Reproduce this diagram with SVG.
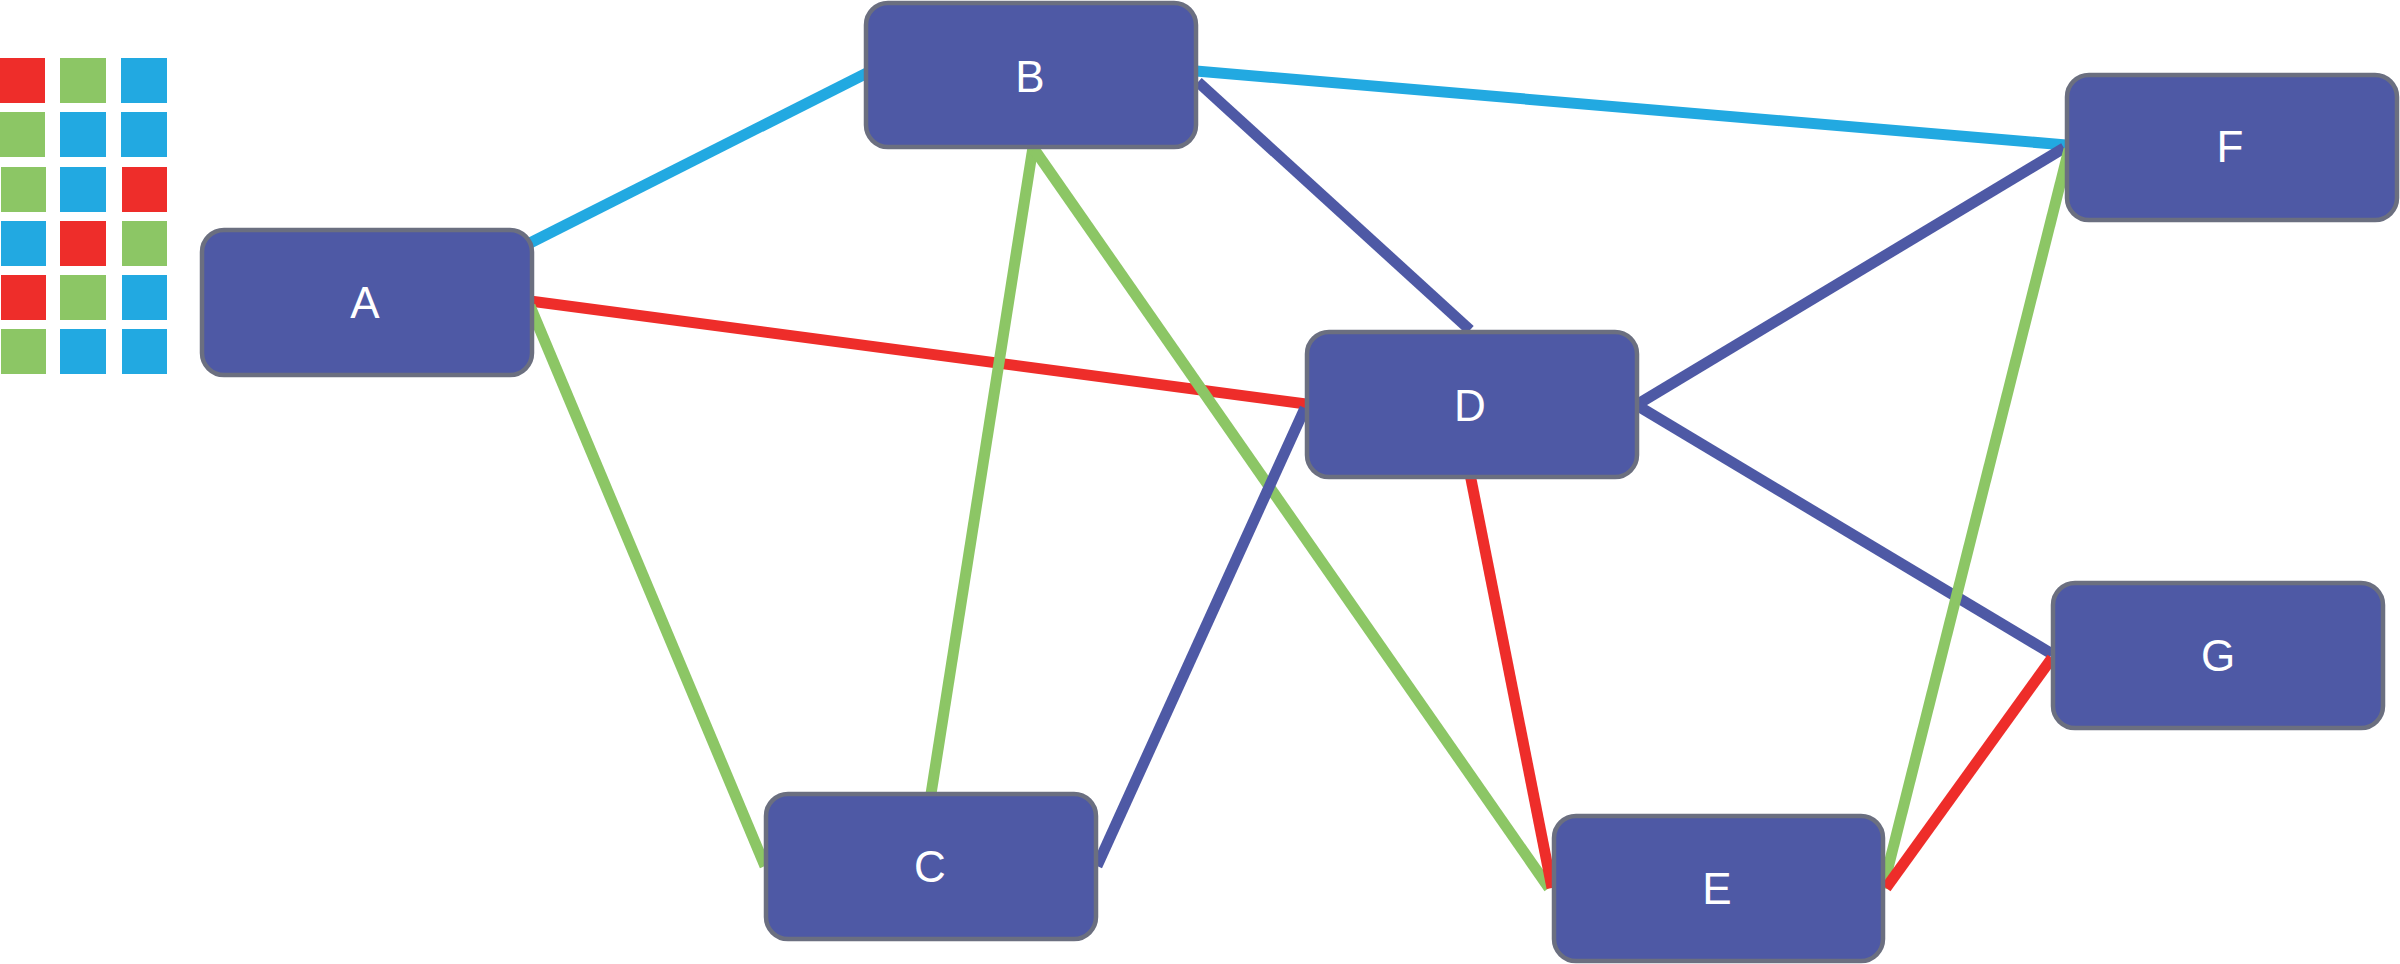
<svg xmlns="http://www.w3.org/2000/svg" width="2400" height="964" viewBox="0 0 2400 964">
<style>
.node rect{fill:#4E59A5;stroke:#6B6F80;stroke-width:4.5}
.node text{fill:#FFFFFF;font-family:"Liberation Sans",Arial,sans-serif;font-size:44px;text-anchor:middle;dominant-baseline:central}
.edges line{stroke-width:11;stroke-linecap:butt;fill:none}
.b{stroke:#22A9E1}.g{stroke:#8CC665}.r{stroke:#EE2D2A}.d{stroke:#4E59A5}
.lr{fill:#EE2D2A}.lg{fill:#8CC665}.lb{fill:#22A9E1}
</style>
<rect width="2400" height="964" fill="#FFFFFF"/>
<g id="legend">
<rect class="lr" x="0" y="58" width="45" height="45"/>
<rect class="lg" x="60" y="58" width="46" height="45"/>
<rect class="lb" x="121" y="58" width="46" height="45"/>
<rect class="lg" x="0" y="112" width="45" height="45"/>
<rect class="lb" x="60" y="112" width="46" height="45"/>
<rect class="lb" x="121" y="112" width="46" height="45"/>
<rect class="lg" x="1" y="167" width="45" height="45"/>
<rect class="lb" x="60" y="167" width="46" height="45"/>
<rect class="lr" x="122" y="167" width="45" height="45"/>
<rect class="lb" x="1" y="221" width="45" height="45"/>
<rect class="lr" x="60" y="221" width="46" height="45"/>
<rect class="lg" x="122" y="221" width="45" height="45"/>
<rect class="lr" x="1" y="275" width="45" height="45"/>
<rect class="lg" x="60" y="275" width="46" height="45"/>
<rect class="lb" x="122" y="275" width="45" height="45"/>
<rect class="lg" x="1" y="329" width="45" height="45"/>
<rect class="lb" x="60" y="329" width="46" height="45"/>
<rect class="lb" x="122" y="329" width="45" height="45"/>
</g>
<g id="connectors" class="edges">
<line class="b" x1="530" y1="243" x2="867" y2="73"/>
<line class="b" x1="1196" y1="71" x2="2066" y2="145"/>
<line class="d" x1="1198" y1="82" x2="1470" y2="330"/>
<line class="r" x1="530" y1="301" x2="1306" y2="404"/>
<line class="g" x1="530" y1="306" x2="765" y2="866"/>
<line class="g" x1="1033" y1="147" x2="931" y2="794"/>
<line class="g" x1="1034" y1="149" x2="1549" y2="888"/>
<line class="d" x1="1097" y1="866" x2="1305" y2="408"/>
<line class="r" x1="1470" y1="474" x2="1552" y2="888"/>
<line class="d" x1="1638" y1="404" x2="2064" y2="148"/>
<line class="d" x1="1638" y1="406" x2="2052" y2="654"/>
<line class="g" x1="1883" y1="888" x2="2069" y2="149"/>
<line class="r" x1="1886" y1="888" x2="2052" y2="658"/>
</g>
<g id="node-A" class="node"><rect x="202" y="230" width="330" height="145" rx="22"/><text x="365" y="302">A</text></g>
<g id="node-B" class="node"><rect x="866" y="3" width="330" height="144" rx="22"/><text x="1030" y="76">B</text></g>
<g id="node-C" class="node"><rect x="766" y="794" width="330" height="145" rx="22"/><text x="930" y="866">C</text></g>
<g id="node-D" class="node"><rect x="1307" y="332" width="330" height="145" rx="22"/><text x="1470" y="405">D</text></g>
<g id="node-E" class="node"><rect x="1554" y="816" width="329" height="145" rx="22"/><text x="1717" y="888">E</text></g>
<g id="node-F" class="node"><rect x="2067" y="75" width="330" height="145" rx="22"/><text x="2230" y="146">F</text></g>
<g id="node-G" class="node"><rect x="2053" y="583" width="330" height="145" rx="22"/><text x="2218" y="655">G</text></g>
</svg>
